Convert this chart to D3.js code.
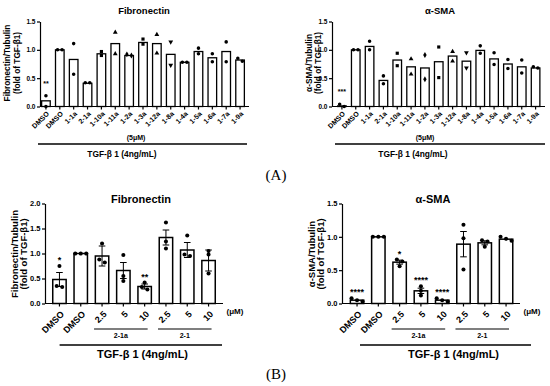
<!DOCTYPE html>
<html>
<head>
<meta charset="utf-8">
<script src="https://cdn.jsdelivr.net/npm/d3@7"></script>
<style>
  body { margin: 0; background: #fff; }
  text { font-family: Arial, "Liberation Sans", sans-serif; font-weight: bold; fill: #000; }
  text.panel { font-family: "Times New Roman", "Liberation Serif", serif; font-weight: normal; }
</style>
</head>
<body>
<svg id="fig" width="550" height="386"></svg>
<script>
//------------- panel A : 5 uM screen (two replicates) -------------
const catA = ["DMSO","DMSO","1-1a","2-1a","1-10a","1-11a","1-2a","1-3a","1-12a","1-8a","1-4a","1-5a","1-6a","1-7a","1-9a"];
const shapeA = ["circle","circle","circle","circle","square","triangle","diamond","square","triangle","triangleDown","circle","circle","circle","circle","circle"];
const ticksA = [0, 0.5, 1.0, 1.5];

const fnA = [0.10,1.00,0.83,0.41,0.93,1.11,0.90,1.13,1.11,0.92,0.78,0.97,0.86,0.97,0.82];
const fnPtsA = [[0.19,0.00],[1.00,1.00],[1.11,0.57],[0.42,0.42],[0.97,0.90],[1.31,0.93],[0.92,0.90],
                [1.19,1.10],[1.27,0.94],[1.14,0.73],[0.78,0.78],[1.03,0.93],[0.93,0.79],[1.14,0.79],[0.85,0.80]];
const sigFnA = ["**","","","","","","","","","","","","","",""];

const smaA = [0.01,1.00,1.06,0.46,0.82,0.70,0.68,0.79,0.89,0.80,0.99,0.84,0.75,0.70,0.68];
const smaPtsA = [[0.00,0.04],[1.00,1.00],[1.15,1.00],[0.54,0.40],[0.94,0.72],[0.84,0.57],[0.91,0.48],
                 [1.05,0.51],[0.97,0.80],[0.95,0.68],[1.07,0.94],[0.95,0.74],[0.83,0.67],[0.82,0.59],[0.70,0.68]];
const sigSmaA = ["***","","","","","","","","","","","","","",""];

//------------- panel B : dose response (three replicates) -------------
const catB = ["DMSO","DMSO","2.5","5","10","2.5","5","10"];
const groupB = ["2-1a","2-1"];
const groupFromB = [2, 5];
const groupToB = [4, 7];
const ticksFnB = [0, 0.5, 1.0, 1.5, 2.0];
const ticksSmaB = [0, 0.5, 1.0, 1.5];

const fnB = [0.48,1.00,0.95,0.66,0.34,1.32,1.07,0.86];
const fnSemB = [0.14,0,0.20,0.16,0.05,0.15,0.15,0.21];
const fnPtsB = [[0.75,0.35,0.33],[1,1,1],[1.20,0.88,0.82],[0.97,0.55,0.45],[0.42,0.33,0.28],
                [1.62,1.24,1.10],[1.36,0.98,0.95],[1.05,0.98,0.60]];
const sigFnB = ["*","","","","**","","",""];

const smaB = [0.05,1.00,0.62,0.19,0.05,0.89,0.91,0.965];
const smaSemB = [0.015,0,0.03,0.04,0.012,0.19,0.03,0.02];
const smaPtsB = [[0.08,0.05,0.03],[1,1,1],[0.66,0.63,0.56],[0.26,0.19,0.12],[0.08,0.05,0.03],
                 [1.18,0.98,0.51],[0.95,0.93,0.85],[1.00,0.97,0.94]];
const sigSmaB = ["****","","*","****","****","","",""];
//-----------------------------------------------------------------

const svg = d3.select("#fig");

const symbolOf = {
  circle: d3.symbolCircle, square: d3.symbolSquare, triangle: d3.symbolTriangle,
  diamond: d3.symbolDiamond, triangleDown: d3.symbolTriangle
};

// side-by-side placement for points that would overlap
function spread(vals, y, gap, dist) {
  let ys = vals.map(v => y(v));
  let order = d3.range(vals.length).sort((a, b) => ys[a] - ys[b]);
  let off = vals.map(() => 0);
  let cl = [order[0]];
  let flush = () => cl.forEach((k, j) => off[k] = (j - (cl.length - 1) / 2) * dist);
  for (let k = 1; k < order.length; k++) {
    if (ys[order[k]] - ys[cl[cl.length - 1]] < gap) cl.push(order[k]);
    else { flush(); cl = [order[k]]; }
  }
  flush();
  return off;
}

function drawPanel(p) {
  let n = p.cats.length;
  let x = d3.scaleBand().domain(d3.range(n)).range(p.xr).paddingInner(p.pad).paddingOuter(p.pad / 2);
  let y = d3.scaleLinear().domain([0, p.ymax]).range([p.y0, p.ytop]);
  let cx = i => x(i) + x.bandwidth() / 2;
  let g = svg.append("g");

  // bars
  g.selectAll("rect.bar").data(p.means).join("rect")
    .attr("x", (d, i) => x(i))
    .attr("y", d => y(d))
    .attr("width", x.bandwidth())
    .attr("height", d => p.y0 - y(d))
    .attr("fill", "#fff").attr("stroke", "#000").attr("stroke-width", p.barStroke);

  // error bars (mean +/- SEM)
  if (p.sem) {
    let e = g.selectAll("g.err").data(p.means).join("g");
    e.append("line")
      .attr("x1", (d, i) => cx(i)).attr("x2", (d, i) => cx(i))
      .attr("y1", (d, i) => y(d - p.sem[i])).attr("y2", (d, i) => y(d + p.sem[i]))
      .attr("stroke", "#000").attr("stroke-width", 1);
    [1, -1].forEach(s => e.append("line")
      .attr("x1", (d, i) => cx(i) - p.cap).attr("x2", (d, i) => cx(i) + p.cap)
      .attr("y1", (d, i) => y(d + s * p.sem[i])).attr("y2", (d, i) => y(d + s * p.sem[i]))
      .attr("stroke", "#000").attr("stroke-width", 1)
      .attr("display", (d, i) => p.sem[i] > 0.02 ? null : "none"));
  }

  // replicate points
  p.pts.forEach((vals, i) => {
    let off = spread(vals, y, p.ptGap, p.ptDist);
    let shape = p.shapes ? p.shapes[i] : "circle";
    g.selectAll(null).data(vals).join("path")
      .attr("d", d3.symbol().type(symbolOf[shape]).size(p.ptSize))
      .attr("transform", (d, j) => "translate(" + (cx(i) + off[j]) + "," + y(d) + ")" + (shape === "triangleDown" ? " rotate(180)" : ""))
      .attr("fill", "#000");
  });

  // significance marks
  g.selectAll("text.sig").data(p.sig).join("text")
    .attr("x", (d, i) => cx(i))
    .attr("y", (d, i) => {
      let top = d3.max(p.pts[i]);
      if (p.sem) top = Math.max(top, p.means[i] + p.sem[i]);
      return y(top) - p.sigGap;
    })
    .attr("text-anchor", "middle")
    .style("font-size", p.sigFont + "px")
    .text(d => d);

  // y axis
  let ya = g.append("g").attr("transform", "translate(" + p.ax + ",0)")
    .call(d3.axisLeft(y).tickValues(p.ticks).tickFormat(d3.format(".1f")).tickSize(3).tickSizeOuter(0).tickPadding(1.5));
  ya.selectAll("text").style("font-size", p.tickFont + "px");
  ya.selectAll("line,path").attr("stroke", "#000").attr("stroke-width", 1.2);

  // x axis line + ticks
  g.append("line").attr("x1", p.ax).attr("x2", p.xend).attr("y1", p.y0).attr("y2", p.y0)
    .attr("stroke", "#000").attr("stroke-width", 1.2);
  g.selectAll("line.tk").data(p.cats).join("line")
    .attr("x1", (d, i) => cx(i)).attr("x2", (d, i) => cx(i))
    .attr("y1", p.y0).attr("y2", p.y0 + 3)
    .attr("stroke", "#000").attr("stroke-width", 1.2);

  // category labels
  g.selectAll("text.cat").data(p.cats).join("text")
    .attr("transform", (d, i) => "translate(" + (cx(i) + p.labDx) + "," + (p.y0 + p.labDy) + ") rotate(-45)")
    .attr("text-anchor", "end")
    .attr("dy", "0.35em")
    .style("font-size", p.catFont + "px")
    .text(d => d);

  // title
  g.append("text").attr("x", p.titleX).attr("y", p.titleY).attr("text-anchor", "middle")
    .style("font-size", p.titleFont + "px").text(p.title);

  // y label
  p.ylab.forEach((t, k) => g.append("text")
    .attr("transform", "translate(" + p.ylabX[k] + "," + p.ylabY + ") rotate(-90)")
    .attr("text-anchor", "middle")
    .style("font-size", p.ylabFont + "px").text(t));

  // treatment line
  g.append("line").attr("x1", p.tgfLine[0]).attr("x2", p.tgfLine[1]).attr("y1", p.tgfY).attr("y2", p.tgfY)
    .attr("stroke", "#000").attr("stroke-width", 1.3);
  g.append("text").attr("x", p.tgfX).attr("y", p.tgfY + p.tgfDy).attr("text-anchor", "middle")
    .style("font-size", p.tgfFont + "px").text("TGF-β 1 (4ng/mL)");

  if (p.conc) {
    g.append("text").attr("x", p.conc[0]).attr("y", p.conc[1]).attr("text-anchor", "middle")
      .style("font-size", p.concFont + "px").style("fill", "#000").text(p.concText);
  }

  if (p.groups) {
    p.groups.forEach((name, k) => {
      let x1 = cx(p.groupFrom[k]) - 8, x2 = cx(p.groupTo[k]) + 3;
      g.append("line").attr("x1", x1).attr("x2", x2).attr("y1", p.groupY).attr("y2", p.groupY)
        .attr("stroke", "#000").attr("stroke-width", 1.2);
      g.append("text").attr("x", (x1 + x2) / 2).attr("y", p.groupY + 9).attr("text-anchor", "middle")
        .style("font-size", "7px").text(name);
    });
  }
}

const styleA = {
  pad: 0.38, y0: 106.5, ytop: 21.5, ymax: 1.5, ticks: ticksA, barStroke: 1.3,
  ptSize: 10, ptGap: 3, ptDist: 4.5, sigGap: 10, sigFont: 7, tickFont: 6.5,
  labDx: 2, labDy: 6, catFont: 7, titleY: 14, titleFont: 9.5, ylabFont: 8.3, ylabY: 63,
  tgfY: 144, tgfDy: 13, tgfFont: 8.4, concFont: 7, concText: "(5μM)", shapes: shapeA
};
const styleB = {
  pad: 0.37, y0: 303.5, cap: 3.3, barStroke: 1.5,
  ptSize: 13, ptGap: 3.5, ptDist: 5.5, sigGap: 3, sigFont: 9, tickFont: 7.5,
  labDx: 3, labDy: 9, catFont: 9, titleY: 203, titleFont: 11, ylabFont: 9.5, ylabY: 254,
  tgfY: 345, tgfDy: 13, tgfFont: 11, concFont: 8, concText: "(μM)",
  groups: groupB, groupFrom: groupFromB, groupTo: groupToB, groupY: 329
};

drawPanel(Object.assign({}, styleA, {
  cats: catA, means: fnA, pts: fnPtsA, sig: sigFnA,
  ax: 40, xr: [39, 247], xend: 249, title: "Fibronectin", titleX: 144,
  ylab: ["Fibronectin/Tubulin", "(fold of TGF-β1)"], ylabX: [9.5, 19.5],
  tgfLine: [38, 247], tgfX: 122, conc: [136, 140]
}));
drawPanel(Object.assign({}, styleA, {
  cats: catA, means: smaA, pts: smaPtsA, sig: sigSmaA,
  ax: 332, xr: [335, 542.5], xend: 545, title: "α-SMA", titleX: 440,
  ylab: ["α-SMA/Tubulin", "(fold of TGF-β1)"], ylabX: [311.5, 321],
  tgfLine: [335, 545], tgfX: 413, conc: [425, 140]
}));
drawPanel(Object.assign({}, styleB, {
  cats: catB, means: fnB, sem: fnSemB, pts: fnPtsB, sig: sigFnB,
  ax: 45, xr: [48.8, 219.2], xend: 223, ytop: 203.5, ymax: 2.0, ticks: ticksFnB,
  title: "Fibronectin", titleX: 141,
  ylab: ["Fibronectin/Tubulin", "(fold of TGF-β1)"], ylabX: [18, 27],
  tgfLine: [59.6, 222], tgfX: 142.5, conc: [235, 314]
}));
drawPanel(Object.assign({}, styleB, {
  cats: catB, means: smaB, sem: smaSemB, pts: smaPtsB, sig: sigSmaB,
  ax: 342, xr: [346.4, 516.7], xend: 520, ytop: 203.5, ymax: 1.5, ticks: ticksSmaB,
  title: "α-SMA", titleX: 433,
  ylab: ["α-SMA/Tubulin", "(fold of TGF-β1)"], ylabX: [314.5, 324],
  tgfLine: [360, 531], tgfX: 453.5, conc: [532, 314]
}));

svg.append("text").attr("class", "panel").attr("x", 276).attr("y", 180).attr("text-anchor", "middle")
  .style("font-size", "15px").text("(A)");
svg.append("text").attr("class", "panel").attr("x", 276).attr("y", 379).attr("text-anchor", "middle")
  .style("font-size", "15px").text("(B)");
</script>
</body>
</html>
